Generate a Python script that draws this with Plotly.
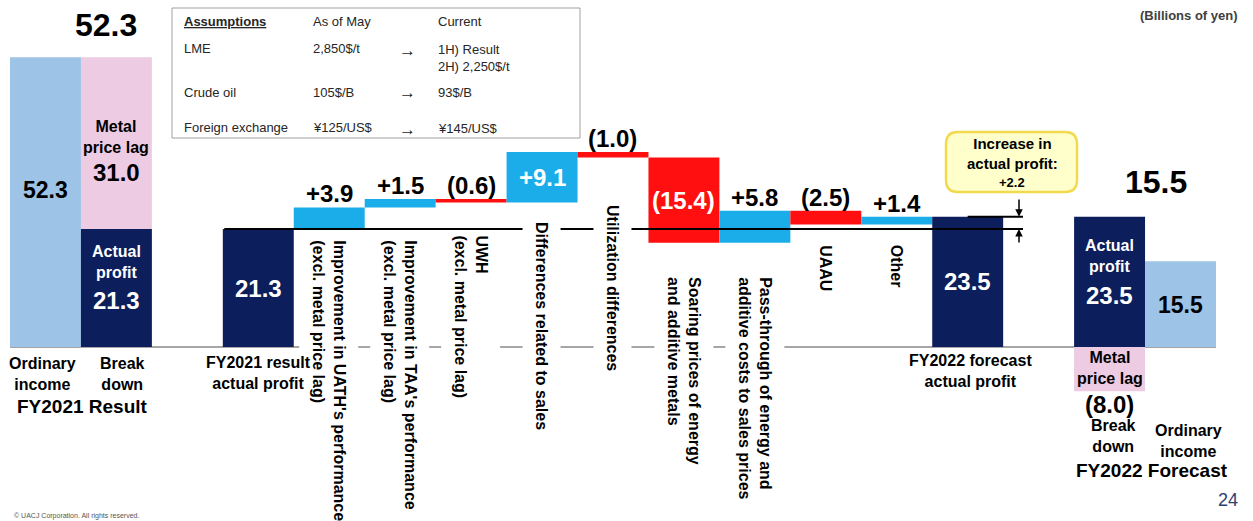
import plotly.graph_objects as go

W, H = 1253, 521

# ---- data (billions of yen) ----
fy2021_ordinary = 52.3
fy2021_actual = 21.3
fy2021_lag = 31.0
step_names = [
    "Improvement in UATH's performance<br>(excl. metal price lag)",
    "Improvement in TAA's performance<br>(excl. metal price lag)",
    "UWH<br>(excl. metal price lag)",
    "Differences related to sales",
    "Utilization differences",
    "Soaring prices of energy<br>and additive metals",
    "Pass-through of energy and<br>additive costs to sales prices",
    "UAAU",
    "Other",
]
step_values = [3.9, 1.5, -0.6, 9.1, -1.0, -15.4, 5.8, -2.5, 1.4]
fy2022_actual = 23.5
fy2022_lag = -8.0
fy2022_ordinary = 15.5

assumption_rows = [
    ["LME", "2,850$/t", "1H) Result<br>2H) 2,250$/t"],
    ["Crude oil", "105$/B", "93$/B"],
    ["Foreign exchange", "¥125/US$", "¥145/US$"],
]

# ---- colours / fonts ----
NAVY = "#0C1E5C"
LIGHT = "#9DC3E6"
PINK = "#EDCBE3"
BLUE = "#1AADEA"
RED = "#FF0F0F"
FONT = "Arial, Liberation Sans, sans-serif"

# slot layout: one bar per slot, slots touch each other
X0_PX, SLOT = 10, 70.94
BASE_PX, UNIT = 347, 5.54


def xd(px):
    return -0.5 + (px - X0_PX) / SLOT


def yd(py):
    return (BASE_PX - py) / UNIT


def px(x):
    return x / W


def py(y):
    return 1 - y / H


def fmt(v):
    return f"+{v:.1f}" if v > 0 else f"({abs(v):.1f})"


x_ord21, x_bd21, x_act21 = 0, 1, 3
x_steps = list(range(4, 4 + len(step_values)))
x_act22, x_bd22, x_ord22 = 13, 15, 16

bases = []
level = fy2021_actual
for v in step_values:
    bases.append(level)
    level += v

fig = go.Figure()


def bar(x, y, color, base=None):
    fig.add_trace(go.Bar(
        x=x, y=y, base=base, width=1, marker=dict(color=color, line=dict(width=0)),
        showlegend=False, hoverinfo="skip"))


bar([x_ord21], [fy2021_ordinary], LIGHT)
bar([x_bd21], [fy2021_actual], NAVY)
bar([x_bd21], [fy2021_lag], PINK, base=[fy2021_actual])
bar([x_act21], [fy2021_actual], NAVY)
bar(x_steps, step_values, [BLUE if v > 0 else RED for v in step_values], base=bases)
bar([x_act22], [fy2022_actual], NAVY)
bar([x_bd22], [fy2022_actual], NAVY)
bar([x_bd22], [fy2022_lag], PINK, base=[0])
bar([x_ord22], [fy2022_ordinary], LIGHT)

shapes = []
# baseline
shapes.append(dict(type="line", xref="x", yref="y", x0=-0.5, x1=16.5, y0=0, y1=0,
                   line=dict(color="#A6A6A6", width=2), layer="below"))
# forecast level tick to the right of the FY2022 bar
shapes.append(dict(type="line", xref="x", yref="y", x0=x_act22, x1=xd(1023),
                   y0=fy2022_actual, y1=fy2022_actual, line=dict(color="black", width=2)))
# assumptions box
shapes.append(dict(type="rect", xref="paper", yref="paper", x0=px(172), x1=px(580),
                   y0=py(138), y1=py(8), line=dict(color="#A0A0A0", width=1), fillcolor="white"))


# callout box
def rr_path(x0, y0, x1, y1, r):
    return (f"M {xd(x0 + r)},{yd(y0)} L {xd(x1 - r)},{yd(y0)} Q {xd(x1)},{yd(y0)} {xd(x1)},{yd(y0 + r)} "
            f"L {xd(x1)},{yd(y1 - r)} Q {xd(x1)},{yd(y1)} {xd(x1 - r)},{yd(y1)} "
            f"L {xd(x0 + r)},{yd(y1)} Q {xd(x0)},{yd(y1)} {xd(x0)},{yd(y1 - r)} "
            f"L {xd(x0)},{yd(y0 + r)} Q {xd(x0)},{yd(y0)} {xd(x0 + r)},{yd(y0)} Z")


shapes.append(dict(type="path", xref="x", yref="y", path=rr_path(946, 132, 1077, 192, 12),
                   fillcolor="#FFFFCC", line=dict(color="#F2D94E", width=2.5)))

ann = []


def text(x, y, s, size=16, color="black", bold=True, xref="x", yref="y", family=FONT, **kw):
    kw.setdefault("yanchor", "middle")
    kw.setdefault("xanchor", "center")
    ann.append(dict(x=x, y=y, xref=xref, yref=yref, text=f"<b>{s}</b>" if bold else s,
                    showarrow=False, font=dict(family=family, size=size, color=color), **kw))


def rotated(i, top_px):
    ann.append(dict(x=x_steps[i], y=yd(top_px - 11), xref="x", yref="y", text=f"<b>{step_names[i]}</b>",
                    textangle=90, xanchor="center", yanchor="top", align="left", showarrow=False,
                    bgcolor="white", borderpad=10, font=dict(family=FONT, size=16, color="black")))


label_tops = [240, 240, 235, 222, 205, 277, 277, 245, 245]
for i in range(3):
    rotated(i, label_tops[i])

# actual-profit reference line across the bridge
ann.append(dict(x=xd(1023), y=fy2021_actual, ax=x_act21 - 0.5, ay=fy2021_actual, xref="x", yref="y",
                axref="x", ayref="y", text="", showarrow=True, arrowhead=0, arrowwidth=2,
                arrowcolor="black", standoff=0, startstandoff=0))

for i in range(3, len(step_names)):
    rotated(i, label_tops[i])

# step values
for x, b, v in zip(x_steps, bases, step_values):
    if abs(v) >= 9:
        text(x, b + v / 2, fmt(v), size=24, color="white")
    else:
        text(x, max(b, b + v), fmt(v), size=24, yanchor="bottom", yshift=-2)

# FY2021 block
text(xd(106), yd(25), fy2021_ordinary, size=32)
text(x_ord21, yd(190), fy2021_ordinary, size=23)
text(x_bd21, yd(137), "Metal<br>price lag", size=16)
text(x_bd21, yd(172), f"{fy2021_lag:.1f}", size=24)
text(x_bd21, yd(262), "Actual<br>profit", size=16, color="white")
text(x_bd21, yd(300), fy2021_actual, size=24, color="white")
text(x_act21, fy2021_actual / 2, fy2021_actual, size=24, color="white")
text(xd(42), yd(374), "Ordinary<br>income", size=16)
text(xd(122), yd(374), "Break<br>down", size=16)
text(xd(82), yd(406), "FY2021 Result", size=19)
text(xd(258), yd(373), "FY2021 result<br>actual profit", size=16)

# FY2022 block
text(x_act22, fy2022_actual / 2, fy2022_actual, size=24, color="white")
text(xd(970), yd(371), "FY2022 forecast<br>actual profit", size=16)
text(xd(1012), yd(153), "Increase in<br>actual profit:", size=15)
text(xd(1012), yd(182), f"+{fy2022_actual - fy2021_actual:.1f}", size=13)
text(xd(1156), yd(182), fy2022_ordinary, size=32)
text(x_bd22, yd(256), "Actual<br>profit", size=16, color="white")
text(x_bd22, yd(295), fy2022_actual, size=24, color="white")
text(x_ord22, yd(305), fy2022_ordinary, size=23)
text(x_bd22, yd(368), "Metal<br>price lag", size=16)
text(x_bd22, yd(404), f"({abs(fy2022_lag):.1f})", size=24)
text(xd(1113), yd(436), "Break<br>down", size=16)
text(xd(1188), yd(441), "Ordinary<br>income", size=16)
text(xd(1152), yd(470), "FY2022 Forecast", size=19)

# arrows marking the increase
ann.append(dict(x=xd(1019), y=fy2022_actual, ax=xd(1019), ay=yd(198), xref="x", yref="y", axref="x",
                ayref="y", text="", showarrow=True, arrowhead=2, arrowsize=1, arrowwidth=1.5,
                arrowcolor="black", standoff=0))
ann.append(dict(x=xd(1019), y=fy2021_actual, ax=xd(1019), ay=yd(244), xref="x", yref="y", axref="x",
                ayref="y", text="", showarrow=True, arrowhead=2, arrowsize=1, arrowwidth=1.5,
                arrowcolor="black", standoff=0))

# assumptions table
TC = "#262626"
P = dict(xref="paper", yref="paper", xanchor="left")
text(px(182), py(22), "<u>Assumptions</u>", size=13, color=TC, **P)
text(px(311), py(22), "As of May", size=13, color=TC, bold=False, **P)
text(px(436), py(22), "Current", size=13, color=TC, bold=False, **P)
row_y = [49, 92, 128]
for (name, before, now), y in zip(assumption_rows, row_y):
    text(px(182), py(y), name, size=13, color=TC, bold=False, **P)
    text(px(311), py(y), before, size=13, color=TC, bold=False, **P)
    text(px(397), py(y + 1), "→", size=17, color=TC, bold=False, **P)
    text(px(436), py(y - 9), now, size=13, color=TC, bold=False, yanchor="top", align="left", **P)

# page furniture
text(px(1240), py(15), "(Billions of yen)", size=13, color="#404040", xref="paper", yref="paper",
     xanchor="right")
text(px(1240), py(500), "24", size=18, color="#2B4170", bold=False, xref="paper", yref="paper",
     xanchor="right")
text(px(12), py(516), "© UACJ Corporation. All rights reserved.", size=7, color="#555555", bold=False,
     xref="paper", yref="paper", xanchor="left")

fig.update_layout(
    width=W, height=H, margin=dict(l=0, r=0, t=0, b=0),
    paper_bgcolor="white", plot_bgcolor="white",
    barmode="overlay", showlegend=False,
    xaxis=dict(visible=False, range=[xd(0), xd(W)], fixedrange=True),
    yaxis=dict(visible=False, range=[yd(H), yd(0)], fixedrange=True),
    shapes=shapes, annotations=ann,
    font=dict(family=FONT),
)

fig.write_html("out.html", config={"displayModeBar": False})
